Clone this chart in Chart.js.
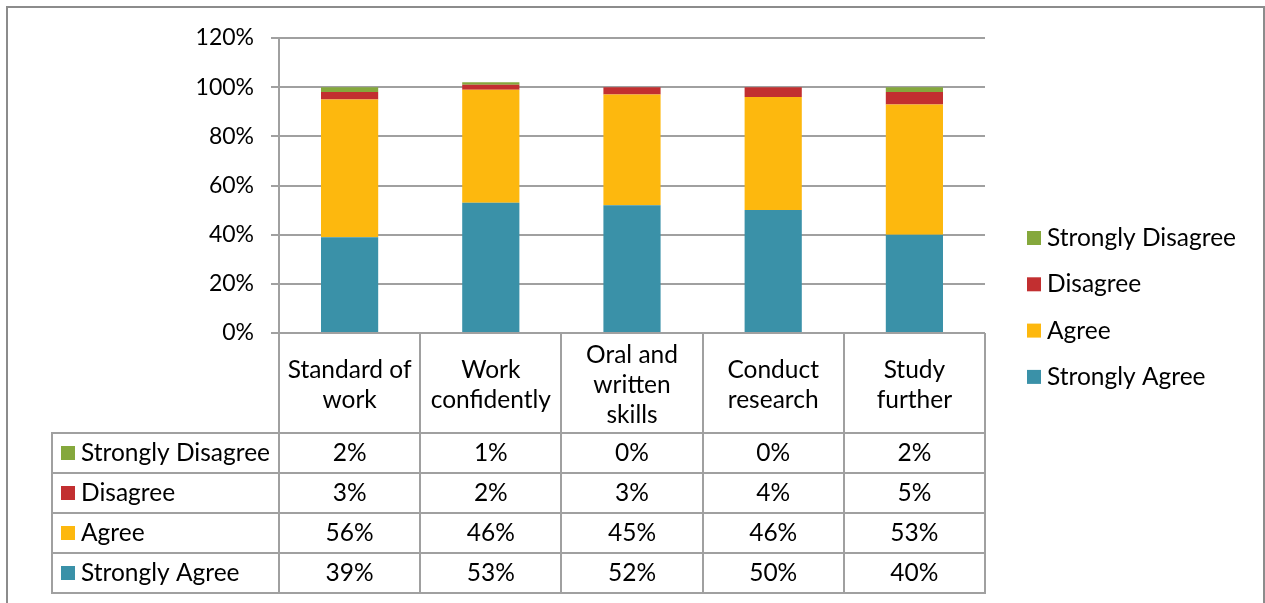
<!DOCTYPE html>
<html>
<head>
<meta charset="utf-8">
<title>Survey responses</title>
<script src="https://cdn.jsdelivr.net/npm/chart.js@4.4.0/dist/chart.umd.min.js"></script>
<style>
    html, body { margin: 0; padding: 0; background: #fff; }
    #wrap { width: 1265px; height: 603px; }
</style>
</head>
<body>
<div id="wrap"><canvas id="myChart" width="1265" height="603"></canvas></div>
<script>
// Categories (multi-line labels) and the four response series, in percent
const categories = [
    ['Standard of', 'work'],
    ['Work', 'confidently'],
    ['Oral and', 'written', 'skills'],
    ['Conduct', 'research'],
    ['Study', 'further'],
];
const stronglyAgree = [39, 53, 52, 50, 40];
const agree = [56, 46, 45, 46, 53];
const disagree = [3, 2, 3, 4, 5];
const stronglyDisagree = [2, 1, 0, 0, 2];

// Value axis
const yMax = 120;
const yStep = 20;

const FONT = 'Lato, "Open Sans", sans-serif';
const TEXT_SIZE = 24.5;
const TICK_SIZE = 23;
const LINE_COLOR = '#a0a0a0';

/**
 * Draws the outer frame, the data table under the axis and the legend on the right.
 */
const dataTablePlugin = {
    id: 'dataTable',
    beforeDraw(chart)
    {
        const ctx = chart.ctx;
        ctx.save();
        ctx.fillStyle = '#fff';
        ctx.fillRect(0, 0, chart.width, chart.height);
        ctx.strokeStyle = '#8c8c8c';
        ctx.lineWidth = 2;
        ctx.strokeRect(7, 7, chart.width - 14 + 6, chart.height + 20);
        ctx.restore();
    },
    afterDraw(chart)
    {
        const ctx = chart.ctx;
        const xScale = chart.scales.x;
        const area = chart.chartArea;
        const n = chart.data.labels.length;
        const colW = xScale.width / n;
        const tableLeft = 52;
        const rowH = 40;
        const headerBottom = xScale.bottom;
        const rows = chart.data.datasets.slice().reverse();
        const tableBottom = headerBottom + rowH * rows.length;

        ctx.save();
        ctx.strokeStyle = LINE_COLOR;
        ctx.lineWidth = 2;

        // column dividers
        for (let i = 0; i <= n; i++) {
            const x = Math.round(xScale.getPixelForValue(i) - colW / 2);
            ctx.beginPath();
            ctx.moveTo(x, area.bottom);
            ctx.lineTo(x, tableBottom);
            ctx.stroke();
        }
        ctx.beginPath();
        ctx.moveTo(tableLeft, headerBottom);
        ctx.lineTo(tableLeft, tableBottom);
        ctx.stroke();

        // row lines
        for (let r = 0; r <= rows.length; r++) {
            const y = headerBottom + r * rowH;
            ctx.beginPath();
            ctx.moveTo(tableLeft - 1, y);
            ctx.lineTo(area.right + 1, y);
            ctx.stroke();
        }

        ctx.font = TEXT_SIZE + 'px ' + FONT;
        ctx.textBaseline = 'middle';
        ctx.fillStyle = '#000';

        rows.forEach((ds, r) => {
            const cy = headerBottom + r * rowH + rowH / 2;
            ctx.fillStyle = ds.backgroundColor;
            ctx.fillRect(tableLeft + 9, cy - 7, 14, 14);
            ctx.fillStyle = '#000';
            ctx.textAlign = 'left';
            ctx.fillText(ds.label, tableLeft + 29, cy);
            ctx.textAlign = 'center';
            ds.data.forEach((v, i) => {
                ctx.fillText(v + '%', xScale.getPixelForValue(i), cy);
            });
        });

        // legend
        const legendX = 1027;
        const legendTop = 238;
        const legendGap = 46.3;
        rows.forEach((ds, r) => {
            const cy = legendTop + r * legendGap;
            ctx.fillStyle = ds.backgroundColor;
            ctx.fillRect(legendX, cy - 7, 14, 14);
            ctx.fillStyle = '#000';
            ctx.textAlign = 'left';
            ctx.fillText(ds.label, legendX + 20, cy);
        });
        ctx.restore();
    },
};

const ctx = document.getElementById('myChart').getContext('2d');

const config = {
    type: 'bar',
    data: {
        labels: categories,
        datasets: [
            { label: 'Strongly Agree', data: stronglyAgree, backgroundColor: '#3a91a8' },
            { label: 'Agree', data: agree, backgroundColor: '#fdb80e' },
            { label: 'Disagree', data: disagree, backgroundColor: '#c22f30' },
            { label: 'Strongly Disagree', data: stronglyDisagree, backgroundColor: '#85a83c' },
        ],
    },
    options: {
        responsive: false,
        animation: false,
        devicePixelRatio: 1,
        datasets: {
            bar: { categoryPercentage: 1, barPercentage: 0.405, borderWidth: 0 },
        },
        layout: {
            padding: { left: 52, right: 280, top: 38, bottom: 170 },
        },
        plugins: {
            legend: { display: false },
            tooltip: { enabled: false },
        },
        scales: {
            x: {
                stacked: true,
                grid: { display: false },
                border: { display: false },
                ticks: {
                    autoSkip: false,
                    maxRotation: 0,
                    minRotation: 0,
                    crossAlign: 'center',
                    padding: 14,
                    color: '#000',
                    font: { family: FONT, size: TEXT_SIZE, lineHeight: '30px' },
                },
                afterFit: (scale) => { scale.height = 100; },
            },
            y: {
                stacked: true,
                min: 0,
                max: yMax,
                grid: { color: LINE_COLOR, lineWidth: 2, tickLength: 8 },
                border: { display: true, color: LINE_COLOR, width: 2 },
                ticks: {
                    stepSize: yStep,
                    padding: 17,
                    color: '#000',
                    font: { family: FONT, size: TICK_SIZE },
                    callback: (v) => v + '%',
                },
                afterFit: (scale) => { scale.width = 227; },
            },
        },
    },
    plugins: [dataTablePlugin],
};

const myChart = new Chart(ctx, config);
</script>
</body>
</html>
